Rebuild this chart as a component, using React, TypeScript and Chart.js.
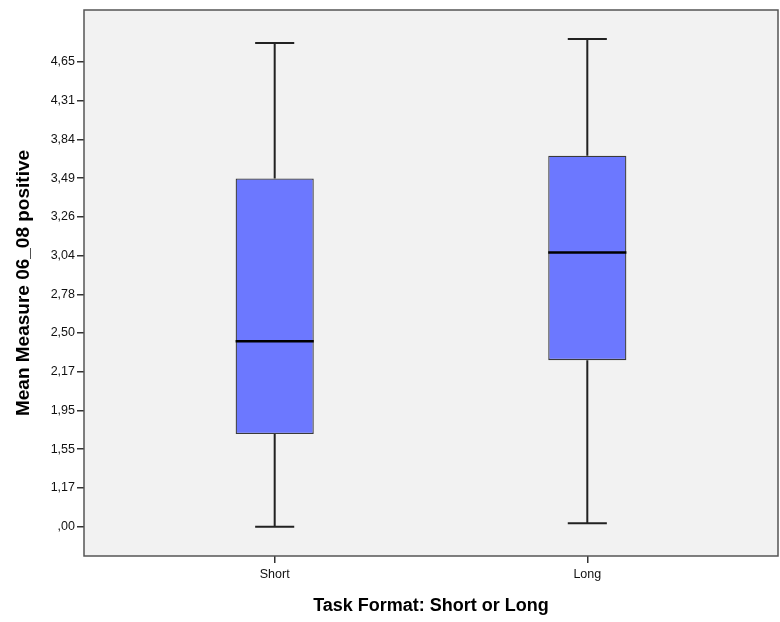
import { useEffect, useRef } from 'react';
import { Chart, registerables } from 'chart.js';

Chart.register(...registerables);

// Categories on the x axis
const categories = ['Short', 'Long'];
// Tick labels of the y axis (SPSS ordinal-spaced axis), one per tick position
const yTickLabels = [',00', '1,17', '1,55', '1,95', '2,17', '2,50', '2,78', '3,04', '3,26', '3,49', '3,84', '4,31', '4,65'];
// Box-plot statistics, in axis tick-position units (0 = ",00", 12 = "4,65")
const whiskerLow = [0.0, 0.09];
const q1 = [2.39, 4.3];
const median = [4.79, 7.08];
const q3 = [8.99, 9.58];
const whiskerHigh = [12.49, 12.59];

const xTitle = 'Task Format: Short or Long';
const yTitle = 'Mean Measure 06_08 positive';

const FONT = '"Liberation Sans", Arial, sans-serif';

const boxPlugin = {
  id: 'boxPlugin',
  beforeDraw(chart: any) {
    const { ctx, chartArea } = chart;
    ctx.save();
    ctx.fillStyle = '#f2f2f2';
    ctx.fillRect(chartArea.left, chartArea.top, chartArea.right - chartArea.left, chartArea.bottom - chartArea.top);
    ctx.restore();
  },
  afterDatasetsDraw(chart: any) {
    const { ctx } = chart;
    const xs = chart.scales.x;
    const ys = chart.scales.y;
    const meta = chart.getDatasetMeta(0);
    ctx.save();
    categories.forEach((_, i) => {
      const bar = meta.data[i];
      const w = bar.width;
      const cx = xs.getPixelForValue(i + 1);
      const yLow = ys.getPixelForValue(whiskerLow[i]);
      const yHigh = ys.getPixelForValue(whiskerHigh[i]);
      const yQ1 = ys.getPixelForValue(q1[i]);
      const yQ3 = ys.getPixelForValue(q3[i]);
      const yMed = ys.getPixelForValue(median[i]);
      ctx.strokeStyle = '#222';
      ctx.lineWidth = 2;
      ctx.beginPath();
      ctx.moveTo(cx, yQ3);
      ctx.lineTo(cx, yHigh);
      ctx.moveTo(cx, yQ1);
      ctx.lineTo(cx, yLow);
      ctx.moveTo(cx - w / 4, yHigh);
      ctx.lineTo(cx + w / 4, yHigh);
      ctx.moveTo(cx - w / 4, yLow);
      ctx.lineTo(cx + w / 4, yLow);
      ctx.stroke();
      ctx.strokeStyle = '#000';
      ctx.lineWidth = 2.5;
      ctx.beginPath();
      ctx.moveTo(cx - w / 2, yMed);
      ctx.lineTo(cx + w / 2, yMed);
      ctx.stroke();
    });
    ctx.restore();
  },
  afterDraw(chart: any) {
    const { ctx, chartArea } = chart;
    ctx.save();
    ctx.strokeStyle = '#555';
    ctx.lineWidth = 1.5;
    ctx.strokeRect(chartArea.left, chartArea.top, chartArea.right - chartArea.left, chartArea.bottom - chartArea.top);
    ctx.restore();
  },
};

export default function App() {
  const ref = useRef<HTMLCanvasElement | null>(null);
  useEffect(() => {
    if (!ref.current) return;
    const chart = new Chart(ref.current, {
      type: 'bar',
      data: {
        datasets: [
          {
            data: categories.map((_, i) => ({ x: i + 1, y: [q1[i], q3[i]] })) as any,
            backgroundColor: '#6c78ff',
            borderColor: '#3a3a3a',
            borderWidth: 1.3,
            borderSkipped: false,
            barPercentage: 0.25,
            categoryPercentage: 1,
          },
        ],
      },
      options: {
        animation: false,
        responsive: false,
        events: [],
        layout: { padding: { top: 10, right: 2, left: 0, bottom: 0 } },
        plugins: { legend: { display: false }, tooltip: { enabled: false } },
        scales: {
          x: {
            type: 'linear',
            offset: false,
            min: 0.39,
            max: 2.61,
            afterBuildTicks: (s: any) => {
              s.ticks = categories.map((_, i) => ({ value: i + 1 }));
            },
            afterFit: (s: any) => {
              s.height = 66;
            },
            ticks: {
              autoSkip: false,
              maxRotation: 0,
              padding: 4,
              color: '#111',
              font: { family: FONT, size: 12.5 },
              callback: (v: any) => categories[Math.round(v) - 1] ?? '',
            },
            grid: { offset: false, drawOnChartArea: false, tickLength: 7, color: '#333', lineWidth: 1.5 },
            border: { display: false },
            title: {
              display: true,
              text: xTitle,
              color: '#000',
              font: { family: FONT, size: 18, weight: 'bold' },
              padding: { top: 0, bottom: 5 },
            },
          },
          y: {
            type: 'linear',
            min: -0.757,
            max: 13.34,
            afterBuildTicks: (s: any) => {
              s.ticks = yTickLabels.map((_, i) => ({ value: i }));
            },
            afterFit: (s: any) => {
              s.width = 84;
            },
            ticks: {
              autoSkip: false,
              padding: 2,
              color: '#111',
              font: { family: FONT, size: 12.5 },
              callback: (v: any) => yTickLabels[Math.round(v)] ?? '',
            },
            grid: { drawOnChartArea: false, tickLength: 7, color: '#333', lineWidth: 1.5 },
            border: { display: false },
            title: {
              display: true,
              text: yTitle,
              color: '#000',
              font: { family: FONT, size: 19, weight: 'bold' },
              padding: { top: 12, bottom: 0 },
            },
          },
        },
      },
      plugins: [boxPlugin],
    });
    return () => chart.destroy();
  }, []);
  return (
    <div style={{ position: 'fixed', left: 0, top: 0, width: 780, height: 622, background: '#fff' }}>
      <canvas ref={ref} width={780} height={622} style={{ display: 'block' }} />
    </div>
  );
}
